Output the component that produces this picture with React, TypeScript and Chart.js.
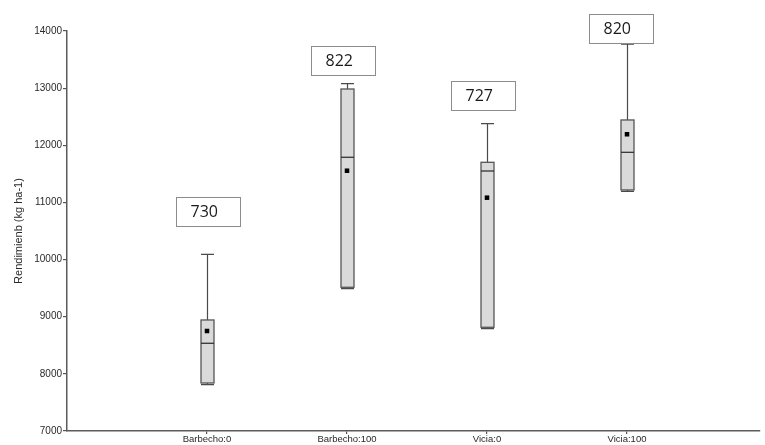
import React, { useEffect, useRef } from "react";
import { Chart, registerables } from "chart.js";

Chart.register(...registerables);

const categories = ["Barbecho:0", "Barbecho:100", "Vicia:0", "Vicia:100"];
const mins = [7810, 9490, 8790, 11195];
const q1s = [7840, 9515, 8815, 11218];
const medians = [8535, 11790, 11550, 11877];
const q3s = [8943, 12985, 11702, 12443];
const maxs = [10092, 13078, 12378, 13768];
const means = [8750, 11555, 11083, 12193];
const countLabels = ["730", "822", "727", "820"];
const labelX = [1.007, 1.97, 2.97, 3.96];
const labelY = [10839, 13481, 12877, 14047];
const yTicks = [7000, 8000, 9000, 10000, 11000, 12000, 13000, 14000];
const yTitle = "Rendimienb (kg ha-1)";

const boxPlugin = {
  id: "boxes",
  beforeDatasetsDraw(chart: any) {
    const { ctx, scales } = chart;
    const xs = scales.x;
    const ys = scales.y;
    const hw = 6.5;
    ctx.save();
    for (let i = 0; i < categories.length; i++) {
      const x = Math.round(xs.getPixelForValue(i + 1)) + 0.5;
      const yMin = ys.getPixelForValue(mins[i]);
      const yQ1 = ys.getPixelForValue(q1s[i]);
      const yMed = ys.getPixelForValue(medians[i]);
      const yQ3 = ys.getPixelForValue(q3s[i]);
      const yMax = ys.getPixelForValue(maxs[i]);
      ctx.strokeStyle = "#4a4a4a";
      ctx.lineWidth = 1.2;
      ctx.beginPath();
      ctx.moveTo(x, yQ3);
      ctx.lineTo(x, yMax);
      ctx.moveTo(x - hw, yMax);
      ctx.lineTo(x + hw, yMax);
      ctx.moveTo(x, yQ1);
      ctx.lineTo(x, yMin);
      ctx.moveTo(x - hw, yMin);
      ctx.lineTo(x + hw, yMin);
      ctx.stroke();
      ctx.fillStyle = "#dadada";
      ctx.fillRect(x - hw, yQ3, hw * 2, yQ1 - yQ3);
      ctx.strokeStyle = "#555555";
      ctx.lineWidth = 1.3;
      ctx.strokeRect(x - hw, yQ3, hw * 2, yQ1 - yQ3);
      ctx.strokeStyle = "#333333";
      ctx.lineWidth = 1.3;
      ctx.beginPath();
      ctx.moveTo(x - hw, yMed);
      ctx.lineTo(x + hw, yMed);
      ctx.stroke();
    }
    ctx.restore();
  },
  afterDatasetsDraw(chart: any) {
    const { ctx, scales } = chart;
    const xs = scales.x;
    const ys = scales.y;
    const w = 64;
    const h = 29;
    ctx.save();
    for (let i = 0; i < countLabels.length; i++) {
      const cx = xs.getPixelForValue(labelX[i]);
      const cy = ys.getPixelForValue(labelY[i]);
      const left = Math.round(cx - w / 2) + 0.5;
      const top = Math.round(cy - h / 2) + 0.5;
      ctx.fillStyle = "#ffffff";
      ctx.fillRect(left, top, w, h);
      ctx.strokeStyle = "#8c8c8c";
      ctx.lineWidth = 1;
      ctx.strokeRect(left, top, w, h);
      ctx.fillStyle = "#1a1a1a";
      ctx.font = "16px 'Open Sans'";
      ctx.textAlign = "left";
      ctx.textBaseline = "middle";
      ctx.fillText(countLabels[i], left + 14, top + h / 2 + 0.5);
    }
    ctx.restore();
  },
};

export default function App() {
  const ref = useRef<HTMLCanvasElement | null>(null);
  useEffect(() => {
    if (!ref.current) return;
    const chart = new Chart(ref.current, {
      type: "scatter",
      data: {
        datasets: [
          {
            label: "mean",
            data: means.map((m, i) => ({ x: i + 1, y: m })),
            pointStyle: "rect",
            pointRadius: 3.2,
            pointBorderWidth: 0,
            backgroundColor: "#000000",
            borderColor: "#000000",
          },
        ],
      },
      options: {
        animation: false,
        responsive: false,
        devicePixelRatio: 1,
        layout: { padding: { top: 31, right: 5, left: 0, bottom: 0 } },
        plugins: {
          legend: { display: false },
          tooltip: { enabled: false },
        },
        scales: {
          x: {
            type: "linear",
            min: 0,
            max: 4.95,
            afterBuildTicks(scale: any) {
              scale.ticks = [1, 2, 3, 4].map((v) => ({ value: v }));
            },
            afterFit(scale: any) {
              scale.height = 14;
            },
            grid: {
              drawOnChartArea: false,
              drawTicks: true,
              tickLength: 3,
              color: "#555555",
              lineWidth: 1.2,
            },
            border: { display: true, color: "#5a5a5a", width: 1.5 },
            ticks: {
              padding: 0,
              maxRotation: 0,
              autoSkip: false,
              color: "#2a2a2a",
              font: { family: "'Liberation Sans', Arial", size: 9.5 },
              callback: (v: any) => categories[Number(v) - 1] ?? "",
            },
          },
          y: {
            type: "linear",
            min: yTicks[0],
            max: yTicks[yTicks.length - 1],
            afterBuildTicks(scale: any) {
              scale.ticks = yTicks.map((v) => ({ value: v }));
            },
            afterFit(scale: any) {
              scale.width = 67;
            },
            grid: {
              drawOnChartArea: false,
              drawTicks: true,
              tickLength: 4,
              color: "#555555",
              lineWidth: 1.2,
            },
            border: { display: true, color: "#5a5a5a", width: 1.5 },
            ticks: {
              padding: 1,
              color: "#2a2a2a",
              font: { family: "'Liberation Sans', Arial", size: 10 },
              callback: (v: any) => String(v),
            },
            title: {
              display: true,
              text: yTitle,
              color: "#2a2a2a",
              font: { family: "'Liberation Sans', Arial", size: 11 },
              padding: { top: 12, bottom: 0 },
            },
          },
        },
      },
      plugins: [boxPlugin],
    } as any);
    return () => chart.destroy();
  }, []);
  return (
    <div style={{ position: "absolute", left: 0, top: 0, width: 765, height: 445, background: "#fff" }}>
      <canvas ref={ref} width={765} height={445} />
    </div>
  );
}
